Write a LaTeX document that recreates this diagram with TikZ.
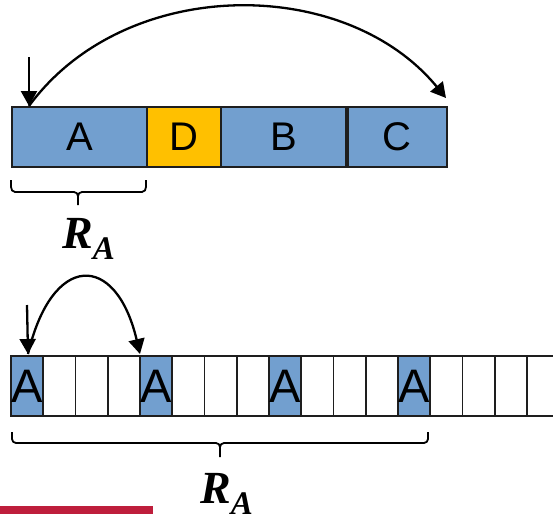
\documentclass[tikz,border=0pt]{standalone}
\usepackage{fontspec}
\setmainfont{Liberation Sans}
\newfontfamily\labelfont{Liberation Serif}
\usetikzlibrary{arrows.meta}
\definecolor{cellblue}{RGB}{114,159,207}
\definecolor{cellgold}{RGB}{255,192,0}
\definecolor{barred}{RGB}{190,30,60}
\definecolor{edge}{RGB}{30,30,30}
\tikzset{
  cellbox/.style={draw=edge, line width=1.8pt, inner sep=0pt, anchor=north west,
    text=black},
  bigcell/.style={cellbox, minimum height=60pt, font=\fontsize{40}{40}\selectfont},
  smallcell/.style={cellbox, minimum width=32.25pt, minimum height=60pt,
    font=\fontsize{47}{47}\selectfont},
  pointer/.style={line width=2.3pt, -{Triangle[length=15pt,width=16pt]}},
  bracepath/.style={line width=1.8pt, line join=round},
  rlabel/.style={anchor=base west, inner sep=0pt}
}
\newcommand{\rsub}{{\labelfont\bfseries\itshape\fontsize{46}{46}\selectfont R\raisebox{-11pt}{\fontsize{33}{33}\selectfont A}}}
\begin{document}
\begin{tikzpicture}[x=1pt, y=-1pt]
  \clip (0,0) rectangle (553,514);
  \fill[white] (0,0) rectangle (553,514);

  % ---- upper layout: four blocks ----
  \node[bigcell, fill=cellblue, minimum width=135pt] (A) at (11,106) {A};
  \node[bigcell, fill=cellgold, minimum width=74pt] (D) at (146,106) {D};
  \node[bigcell, fill=cellblue, minimum width=125pt] (B) at (220,106) {B};
  \node[bigcell, fill=cellblue, minimum width=99pt] (C) at (347,106) {C};

  \coordinate (downtop) at (29,57);
  \coordinate (astart) at (29,106);
  \coordinate (cend) at (446,98);
  \draw[pointer] (downtop) -- (astart);
  \draw[pointer] (astart) .. controls (125,-25) and (345,-25) .. (cend);

  % brace under block A
  \draw[bracepath] (11,180) -- (11,187) to[out=-90,in=180] (15,192) -- (74,192)
    to[out=0,in=90] (78,196) -- (78,205);
  \draw[bracepath] (78,196) to[out=90,in=180] (82,192) -- (142,192)
    to[out=0,in=-90] (146,187) -- (146,180);
  \node[rlabel] (r1) at (62,248) {\rsub};

  % ---- lower layout: row of small cells, every fourth one holds A ----
  \foreach \i in {0,...,16}{
    \pgfmathsetmacro{\xx}{10+32.25*\i}
    \pgfmathtruncatemacro{\m}{mod(\i,4)}
    \ifnum\m=0 \ifnum\i<16
      \node[smallcell, fill=cellblue] (s\i) at (\xx,355) {A};
    \else
      \node[smallcell, fill=white, minimum width=70pt] (s\i) at (\xx,355) {};
    \fi \else
      \node[smallcell, fill=white] (s\i) at (\xx,355) {};
    \fi
  }

  \coordinate (downtop2) at (27,305);
  \coordinate (bstart) at (28,354);
  \coordinate (bend) at (140,354);
  \draw[pointer] (downtop2) -- (bstart);
  \draw[pointer] (bstart) .. controls (52,252) and (116,252) .. (bend);

  % brace under the first thirteen cells
  \draw[bracepath] (12,432) -- (12,439) to[out=-90,in=180] (16,443) -- (216,443)
    to[out=0,in=90] (220,447) -- (220,457);
  \draw[bracepath] (220,447) to[out=90,in=180] (224,443) -- (424,443)
    to[out=0,in=-90] (428,439) -- (428,432);
  \node[rlabel] (r2) at (200,503) {\rsub};

  % accent bar at the bottom edge
  \fill[barred] (0,506) rectangle (153,514);
\end{tikzpicture}
\end{document}
